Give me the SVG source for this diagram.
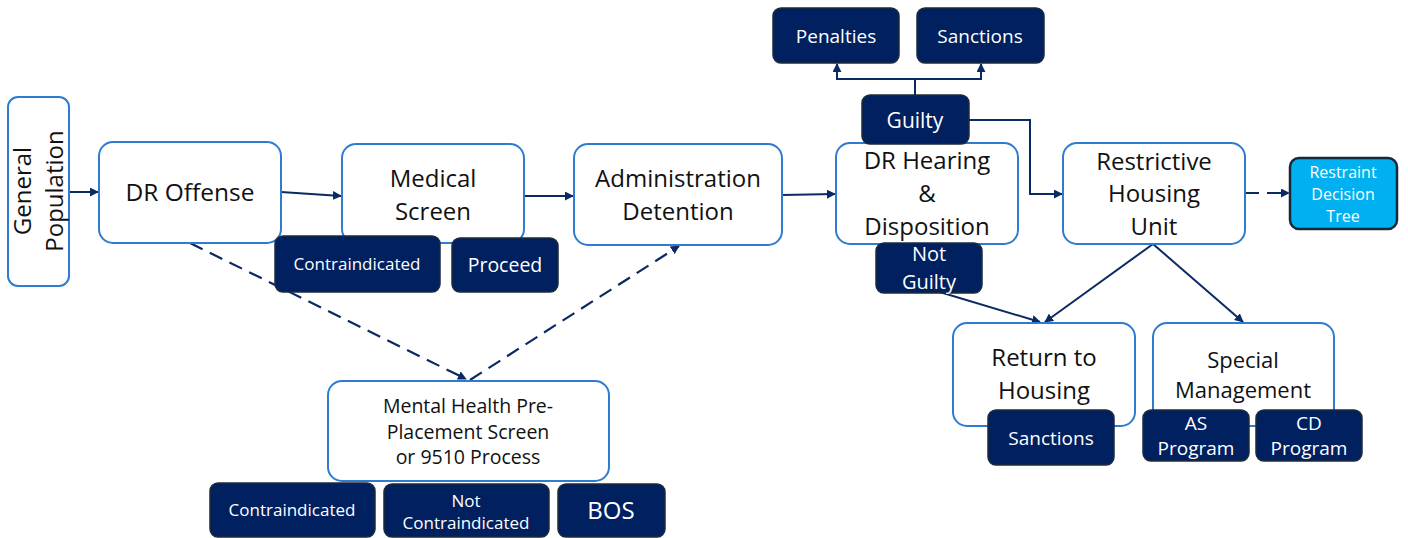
<svg xmlns="http://www.w3.org/2000/svg" width="1408" height="538" viewBox="0 0 1408 538">
<defs>
<marker id="ah" viewBox="0 0 10 10" refX="9" refY="5" markerWidth="9" markerHeight="9" markerUnits="userSpaceOnUse" orient="auto">
<path d="M0,0 L10,5 L0,10 z" fill="#0b2a63"/>
</marker>
<style>
.w{fill:#ffffff;stroke:#2e7bcf;stroke-width:2}
.d{fill:#002060;stroke:#1c2b3a;stroke-width:1.5}
.c{fill:#00b0f0;stroke:#142a3a;stroke-width:2.5}
.t{font-family:"Open Sans","Liberation Sans",sans-serif;fill:#111111;text-anchor:middle}
.tw{font-family:"Open Sans","Liberation Sans",sans-serif;fill:#ffffff;text-anchor:middle}
.ln{fill:none;stroke:#0b2a63;stroke-width:2}
.ds{fill:none;stroke:#0b2a63;stroke-width:2.2;stroke-dasharray:14,8}
</style>
</defs>
<rect width="1408" height="538" fill="#ffffff"/>
<g id="connectors">
<line class="ln" x1="69" y1="192" x2="98" y2="192" marker-end="url(#ah)"/>
<line class="ln" x1="281" y1="192" x2="341" y2="196" marker-end="url(#ah)"/>
<line class="ln" x1="524" y1="196" x2="573" y2="196" marker-end="url(#ah)"/>
<line class="ln" x1="782" y1="195" x2="835" y2="194" marker-end="url(#ah)"/>
<polyline class="ln" points="915,95 915,79"/>
<polyline class="ln" points="837,79 981,79"/>
<line class="ln" x1="837" y1="80" x2="837" y2="64" marker-end="url(#ah)"/>
<line class="ln" x1="981" y1="80" x2="981" y2="64" marker-end="url(#ah)"/>
<polyline class="ln" points="969,120 1030,120 1030,194 1062,194" marker-end="url(#ah)"/>
<line class="ds" x1="1245" y1="193" x2="1289" y2="193" stroke-dasharray="14,7" marker-end="url(#ah)"/>
<line class="ln" x1="1153" y1="244" x2="1045" y2="322" marker-end="url(#ah)"/>
<line class="ln" x1="1153" y1="244" x2="1243" y2="322" marker-end="url(#ah)"/>
<line class="ln" x1="933" y1="290" x2="1040" y2="322" marker-end="url(#ah)"/>
<line class="ds" x1="190" y1="243" x2="466" y2="379" marker-end="url(#ah)"/>
<line class="ds" x1="470" y1="380" x2="679" y2="246" marker-end="url(#ah)"/>
</g>
<g id="general-population">
<rect class="w" x="8" y="97" width="61" height="189" rx="10"/>
<text class="t" font-size="24" transform="translate(31,191) rotate(-90)" y="0">General</text>
<text class="t" font-size="24" transform="translate(63,191) rotate(-90)" y="0">Population</text>
</g>
<g id="dr-offense">
<rect class="w" x="99" y="142" width="182" height="101" rx="14"/>
<text class="t" font-size="24.5" x="190" y="201">DR Offense</text>
</g>
<g id="medical-screen">
<rect class="w" x="342" y="144" width="182" height="99" rx="14"/>
<text class="t" font-size="24" x="433" y="187">Medical</text>
<text class="t" font-size="24" x="433" y="220">Screen</text>
</g>
<g id="med-contraindicated">
<rect class="d" x="275" y="236" width="165" height="56" rx="8"/>
<text class="tw" font-size="17" x="357" y="270">Contraindicated</text>
</g>
<g id="proceed">
<rect class="d" x="452" y="238" width="106" height="54" rx="8"/>
<text class="tw" font-size="19.5" x="505" y="272">Proceed</text>
</g>
<g id="administration-detention">
<rect class="w" x="574" y="144" width="208" height="101" rx="14"/>
<text class="t" font-size="24" x="678" y="187">Administration</text>
<text class="t" font-size="24" x="678" y="220">Detention</text>
</g>
<g id="dr-hearing">
<rect class="w" x="836" y="143" width="182" height="101" rx="14"/>
<text class="t" font-size="24" x="927" y="169">DR Hearing</text>
<text class="t" font-size="24" x="927" y="202">&amp;</text>
<text class="t" font-size="24" x="927" y="235">Disposition</text>
</g>
<g id="guilty">
<rect class="d" x="862" y="95" width="107" height="49" rx="8"/>
<text class="tw" font-size="21" x="915" y="128">Guilty</text>
</g>
<g id="penalties">
<rect class="d" x="773" y="8" width="126" height="55" rx="8"/>
<text class="tw" font-size="19" x="836" y="43">Penalties</text>
</g>
<g id="sanctions-top">
<rect class="d" x="917" y="8" width="127" height="55" rx="8"/>
<text class="tw" font-size="19" x="980" y="43">Sanctions</text>
</g>
<g id="not-guilty">
<rect class="d" x="876" y="243" width="106" height="50" rx="8"/>
<text class="tw" font-size="20" x="929" y="261">Not</text>
<text class="tw" font-size="20" x="929" y="289">Guilty</text>
</g>
<g id="restrictive-housing-unit">
<rect class="w" x="1063" y="143" width="182" height="101" rx="14"/>
<text class="t" font-size="24" x="1154" y="170">Restrictive</text>
<text class="t" font-size="24" x="1154" y="202">Housing</text>
<text class="t" font-size="24" x="1154" y="235">Unit</text>
</g>
<g id="restraint-decision-tree">
<rect class="c" x="1290" y="158" width="107" height="71" rx="9"/>
<text class="tw" font-size="16" x="1343" y="178">Restraint</text>
<text class="tw" font-size="16" x="1343" y="200">Decision</text>
<text class="tw" font-size="16" x="1343" y="222">Tree</text>
</g>
<g id="return-to-housing">
<rect class="w" x="953" y="323" width="182" height="103" rx="14"/>
<text class="t" font-size="24" x="1044" y="366">Return to</text>
<text class="t" font-size="24" x="1044" y="399">Housing</text>
</g>
<g id="sanctions-bottom">
<rect class="d" x="988" y="410" width="126" height="55" rx="8"/>
<text class="tw" font-size="19" x="1051" y="445">Sanctions</text>
</g>
<g id="special-management">
<rect class="w" x="1153" y="323" width="181" height="103" rx="14"/>
<text class="t" font-size="22" x="1243" y="368">Special</text>
<text class="t" font-size="22" x="1243" y="398">Management</text>
</g>
<g id="as-program">
<rect class="d" x="1143" y="410" width="106" height="51" rx="8"/>
<text class="tw" font-size="19" x="1196" y="430">AS</text>
<text class="tw" font-size="19" x="1196" y="455">Program</text>
</g>
<g id="cd-program">
<rect class="d" x="1256" y="410" width="106" height="51" rx="8"/>
<text class="tw" font-size="19" x="1309" y="430">CD</text>
<text class="tw" font-size="19" x="1309" y="455">Program</text>
</g>
<g id="mental-health">
<rect class="w" x="328" y="381" width="281" height="100" rx="14"/>
<text class="t" font-size="19.5" x="468" y="413">Mental Health Pre-</text>
<text class="t" font-size="19.5" x="468" y="439">Placement Screen</text>
<text class="t" font-size="19.5" x="468" y="464">or 9510 Process</text>
</g>
<g id="mh-contraindicated">
<rect class="d" x="210" y="483" width="165" height="54" rx="8"/>
<text class="tw" font-size="17" x="292" y="516">Contraindicated</text>
</g>
<g id="not-contraindicated">
<rect class="d" x="384" y="484" width="165" height="53" rx="8"/>
<text class="tw" font-size="17" x="466" y="507">Not</text>
<text class="tw" font-size="17" x="466" y="529">Contraindicated</text>
</g>
<g id="bos">
<rect class="d" x="558" y="484" width="107" height="53" rx="8"/>
<text class="tw" font-size="24" x="611" y="519">BOS</text>
</g>
</svg>
